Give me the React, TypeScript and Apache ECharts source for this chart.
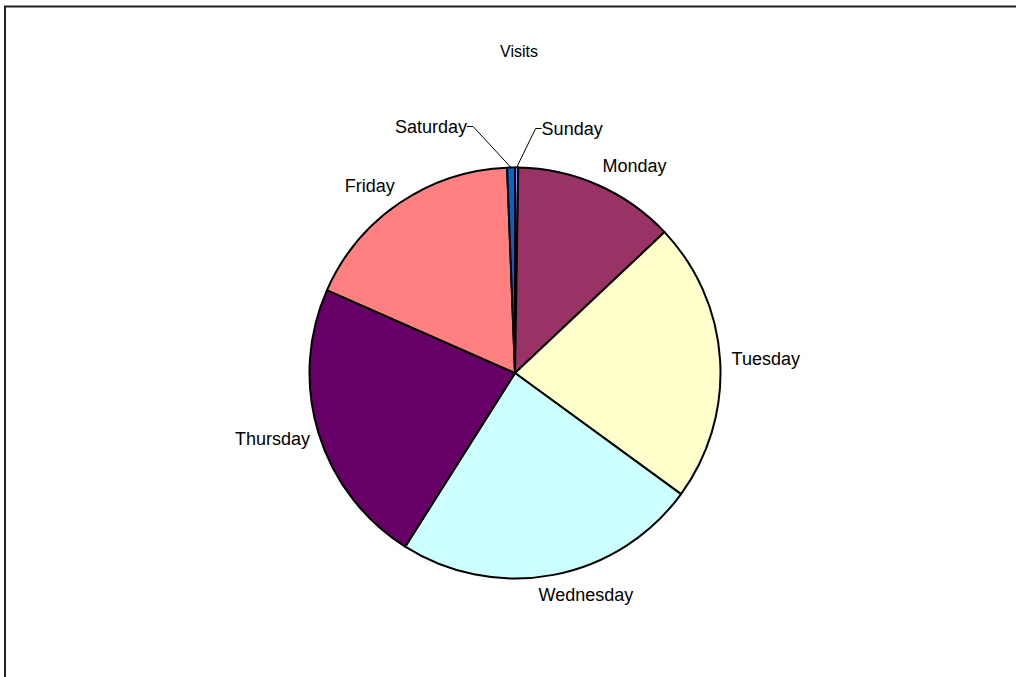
import React, { useEffect, useRef } from "react";
import * as echarts from "echarts";

const categories = ["Sunday", "Monday", "Tuesday", "Wednesday", "Thursday", "Friday", "Saturday"];
const visits = [9, 458, 794, 862, 815, 640, 22];
const colors = ["#9999FF", "#993366", "#FFFFCC", "#CCFFFF", "#660066", "#FF8080", "#0066CC"];
const titleText = "Visits";

export default function App() {
  const ref = useRef<HTMLDivElement>(null);
  useEffect(() => {
    if (!ref.current) return;
    const chart = echarts.init(ref.current, null, { renderer: "svg" });
    const font = "Liberation Sans, Arial, sans-serif";
    const data = categories.map((name, i) => {
      const item: any = { name, value: visits[i], itemStyle: { color: colors[i] } };
      if (name === "Saturday" || name === "Sunday") {
        item.labelLine = { show: true, length: 30, length2: 6, lineStyle: { color: "#000", width: 1, opacity: 1 } };
      }
      return item;
    });
    chart.setOption({
      animation: false,
      backgroundColor: "#ffffff",
      title: {
        text: titleText,
        left: 514,
        top: 38,
        textAlign: "center",
        textStyle: { fontFamily: font, fontSize: 16, fontWeight: "normal", color: "#000" },
      },
      graphic: [
        {
          type: "polyline",
          shape: { points: [[5, 700], [5, 6.5], [1040, 6.5]] },
          style: { fill: "none", stroke: "#222", lineWidth: 2 },
          silent: true,
        },
      ],
      series: [
        {
          type: "pie",
          center: [515, 373],
          radius: 205.5,
          startAngle: 90,
          clockwise: true,
          avoidLabelOverlap: false,
          itemStyle: { borderColor: "#000", borderWidth: 2 },
          label: {
            show: true,
            position: "outside",
            formatter: "{b}",
            fontFamily: font,
            fontSize: 18,
            color: "#000",
            distanceToLabelLine: 2,
          },
          labelLine: { show: true, length: 10, length2: 0, lineStyle: { opacity: 0 } },
          labelLayout: (params: any) => {
            const name = categories[params.dataIndex];
            const r = params.rect;
            if (name === "Saturday") {
              return { x: r.x + r.width / 2 - 44, y: r.y - 40, align: "right", verticalAlign: "middle" };
            }
            if (name === "Sunday") {
              return { x: r.x + r.width / 2 + 25, y: r.y - 38, align: "left", verticalAlign: "middle" };
            }
            const pts = params.labelLinePoints;
            if (!pts || pts.length < 2) return {};
            const p0 = pts[0];
            const p1 = pts[1];
            let dx = p1[0] - p0[0];
            let dy = p1[1] - p0[1];
            const len = Math.sqrt(dx * dx + dy * dy) || 1;
            dx /= len;
            dy /= len;
            const gap = 11.5;
            const hw = params.labelRect.width / 2;
            const hh = params.labelRect.height / 2;
            const fx = Math.min(1, 3.4 * Math.abs(dx)) * Math.sign(dx) * (dx < 0 ? 0.93 : 1);
            return {
              x: p0[0] + dx * gap + fx * hw,
              y: p0[1] + dy * (gap + hh),
              align: "center",
              verticalAlign: "middle",
            };
          },
          emphasis: { disabled: true },
          data,
        },
      ],
    });
    return () => chart.dispose();
  }, []);
  return <div ref={ref} style={{ position: "fixed", left: 0, top: 0, width: 1016, height: 677 }} />;
}
